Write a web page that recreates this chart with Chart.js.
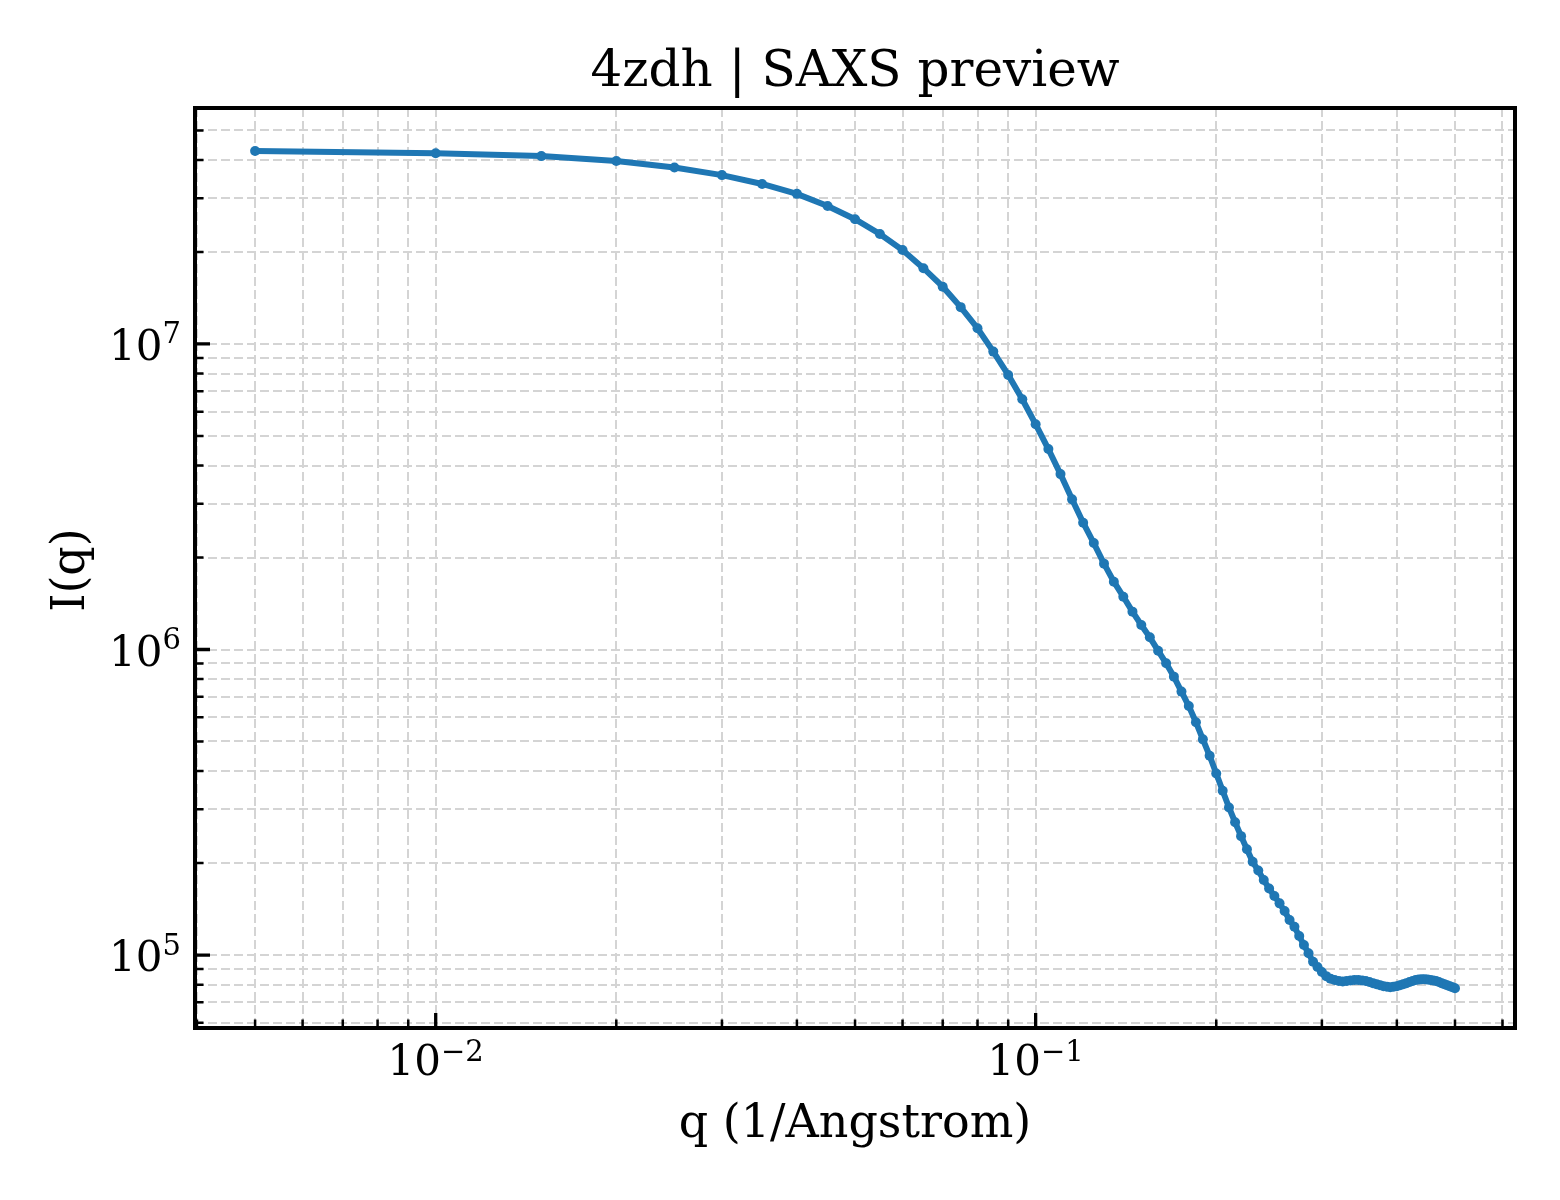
<!DOCTYPE html>
<html>
<head>
<meta charset="utf-8">
<title>4zdh | SAXS preview</title>
<script src="https://cdn.jsdelivr.net/npm/chart.js@4.4.1/dist/chart.umd.min.js"></script>
<style>
  html, body { margin: 0; padding: 0; background: #fff; }
  canvas { display: block; }
</style>
</head>
<body>
<canvas id="saxsChart" width="1560" height="1200" style="width:1560px;height:1200px"></canvas>
<script>
// q values (1/Angstrom)
const qValues = [
  0.005, 0.010, 0.015, 0.020, 0.025, 0.030, 0.035, 0.040, 0.045, 0.050,
  0.055, 0.060, 0.065, 0.070, 0.075, 0.080, 0.085, 0.090, 0.095, 0.100,
  0.105, 0.110, 0.115, 0.120, 0.125, 0.130, 0.135, 0.140, 0.145, 0.150,
  0.155, 0.160, 0.165, 0.170, 0.175, 0.180, 0.185, 0.190, 0.195, 0.200,
  0.205, 0.210, 0.215, 0.220, 0.225, 0.230, 0.235, 0.240, 0.245, 0.250,
  0.255, 0.260, 0.265, 0.270, 0.275, 0.280, 0.285, 0.290, 0.295, 0.300,
  0.305, 0.310, 0.315, 0.320, 0.325, 0.330, 0.335, 0.340, 0.345, 0.350,
  0.355, 0.360, 0.365, 0.370, 0.375, 0.380, 0.385, 0.390, 0.395, 0.400,
  0.405, 0.410, 0.415, 0.420, 0.425, 0.430, 0.435, 0.440, 0.445, 0.450,
  0.455, 0.460, 0.465, 0.470, 0.475, 0.480, 0.485, 0.490, 0.495, 0.500
];

// I(q)
const intensity = [
  4.28e7, 4.21e7, 4.12e7, 3.97e7, 3.78e7, 3.57e7, 3.34e7, 3.10e7, 2.83e7, 2.56e7,
  2.29e7, 2.03e7, 1.77e7, 1.54e7, 1.32e7, 1.126e7, 9.44e6, 7.92e6, 6.59e6, 5.46e6,
  4.53e6, 3.75e6, 3.10e6, 2.60e6, 2.23e6, 1.91e6, 1.667e6, 1.489e6, 1.33e6, 1.203e6,
  1.096e6, 9.91e5, 9.01e5, 8.15e5, 7.28e5, 6.53e5, 5.78e5, 5.08e5, 4.49e5, 3.93e5,
  3.45e5, 3.04e5, 2.72e5, 2.45e5, 2.22e5, 2.02e5, 1.89e5, 1.76e5, 1.65e5, 1.56e5,
  1.476e5, 1.393e5, 1.302e5, 1.238e5, 1.154e5, 1.078e5, 1.013e5, 9.50e4, 9.14e4, 8.80e4,
  8.53e4, 8.37e4, 8.28e4, 8.22e4, 8.19e4, 8.22e4, 8.25e4, 8.28e4, 8.28e4, 8.25e4,
  8.22e4, 8.16e4, 8.09e4, 8.03e4, 7.97e4, 7.91e4, 7.88e4, 7.85e4, 7.87e4, 7.91e4,
  7.97e4, 8.03e4, 8.09e4, 8.16e4, 8.22e4, 8.28e4, 8.31e4, 8.33e4, 8.33e4, 8.31e4,
  8.28e4, 8.25e4, 8.22e4, 8.16e4, 8.09e4, 8.03e4, 7.97e4, 7.91e4, 7.85e4, 7.79e4
];

// axis ticks
const xMajorTicks = [0.01, 0.1];
const xMajorExp = ['\u22122', '\u22121'];
const xMinorTicks = [
  0.004, 0.005, 0.006, 0.007, 0.008, 0.009,
  0.02, 0.03, 0.04, 0.05, 0.06, 0.07, 0.08, 0.09,
  0.2, 0.3, 0.4, 0.5, 0.6
];
const yMajorTicks = [1e5, 1e6, 1e7];
const yMajorExp = ['5', '6', '7'];
const yMinorTicks = [
  6e4, 7e4, 8e4, 9e4,
  2e5, 3e5, 4e5, 5e5, 6e5, 7e5, 8e5, 9e5,
  2e6, 3e6, 4e6, 5e6, 6e6, 7e6, 8e6, 9e6,
  2e7, 3e7, 4e7, 5e7
];

const xRange = [0.00397, 0.6295];
const yRange = [5.77e4, 5.92e7];

const FONT = "'DejaVu Serif', 'Liberation Serif', serif";

Chart.defaults.font.family = FONT;

// frame, inward ticks, mathtext-like labels, titles
const axesDecor = {
    id: 'axesDecor',
    afterDraw(chart) {
        const { ctx, chartArea: a, scales } = chart;
        const xs = scales.x, ys = scales.y;
        ctx.save();

        ctx.strokeStyle = '#000';
        ctx.lineCap = 'butt';
        // minor ticks
        ctx.lineWidth = 2.5;
        ctx.beginPath();
        xMinorTicks.forEach(v => {
            const px = xs.getPixelForValue(v);
            ctx.moveTo(px, a.bottom);
            ctx.lineTo(px, a.bottom - 8.5);
        });
        yMinorTicks.forEach(v => {
            const py = ys.getPixelForValue(v);
            ctx.moveTo(a.left, py);
            ctx.lineTo(a.left + 8.5, py);
        });
        ctx.stroke();
        // major ticks
        ctx.lineWidth = 3.3;
        ctx.beginPath();
        xMajorTicks.forEach(v => {
            const px = xs.getPixelForValue(v);
            ctx.moveTo(px, a.bottom);
            ctx.lineTo(px, a.bottom - 15);
        });
        yMajorTicks.forEach(v => {
            const py = ys.getPixelForValue(v);
            ctx.moveTo(a.left, py);
            ctx.lineTo(a.left + 15, py);
        });
        ctx.stroke();

        // frame
        ctx.lineWidth = 4;
        ctx.strokeRect(a.left, a.top, a.right - a.left, a.bottom - a.top);

        ctx.fillStyle = '#000';
        const baseFont = '42px ' + FONT;
        const expFont = '29px ' + FONT;

        // x tick labels
        ctx.textBaseline = 'alphabetic';
        ctx.textAlign = 'left';
        xMajorTicks.forEach((v, i) => {
            const px = xs.getPixelForValue(v);
            ctx.font = baseFont;
            const bw = ctx.measureText('10').width;
            ctx.font = expFont;
            const ew = ctx.measureText(xMajorExp[i]).width;
            const x0 = px - (bw + ew) / 2;
            const base = a.bottom + 47;
            ctx.font = baseFont;
            ctx.fillText('10', x0, base);
            ctx.font = expFont;
            ctx.fillText(xMajorExp[i], x0 + bw, base - 14);
        });

        // y tick labels
        yMajorTicks.forEach((v, i) => {
            const py = ys.getPixelForValue(v);
            ctx.font = expFont;
            const ew = ctx.measureText(yMajorExp[i]).width;
            ctx.font = baseFont;
            const bw = ctx.measureText('10').width;
            const right = a.left - 14;
            ctx.fillText('10', right - ew - bw, py + 16);
            ctx.font = expFont;
            ctx.fillText(yMajorExp[i], right - ew, py - 0.5);
        });

        // titles
        const cx = (a.left + a.right) / 2;
        ctx.textAlign = 'center';
        ctx.font = '50px ' + FONT;
        ctx.fillText('4zdh | SAXS preview', cx, 86);
        ctx.font = '46px ' + FONT;
        ctx.fillText('q (1/Angstrom)', cx, 1137);

        ctx.translate(84, (a.top + a.bottom) / 2 + 2);
        ctx.rotate(-Math.PI / 2);
        ctx.fillText('I(q)', 0, 0);

        ctx.restore();
    }
};

const gridStyle = {
    display: true,
    color: '#d4d4d4',
    lineWidth: 2,
    drawTicks: false,
    drawOnChartArea: true
};

new Chart(document.getElementById('saxsChart'), {
    type: 'line',
    data: {
        datasets: [{
            label: 'I(q)',
            data: qValues.map((q, i) => ({ x: q, y: intensity[i] })),
            borderColor: '#1f77b4',
            backgroundColor: '#1f77b4',
            borderWidth: 6,
            pointRadius: 5,
            pointBorderWidth: 0,
            pointBackgroundColor: '#1f77b4',
            tension: 0,
            fill: false
        }]
    },
    options: {
        responsive: false,
        devicePixelRatio: 1,
        animation: false,
        layout: {
            padding: { left: 0, top: 108, right: 45, bottom: 0 }
        },
        scales: {
            x: {
                type: 'logarithmic',
                min: xRange[0],
                max: xRange[1],
                afterBuildTicks: axis => {
                    axis.ticks = xMajorTicks.concat(xMinorTicks)
                        .sort((p, q) => p - q).map(v => ({ value: v }));
                },
                afterFit: axis => { axis.height = 172; },
                ticks: { display: false },
                grid: gridStyle,
                border: { display: false, dash: [9, 4] }
            },
            y: {
                type: 'logarithmic',
                min: yRange[0],
                max: yRange[1],
                afterBuildTicks: axis => {
                    axis.ticks = yMajorTicks.concat(yMinorTicks)
                        .sort((p, q) => p - q).map(v => ({ value: v }));
                },
                afterFit: axis => { axis.width = 195; },
                ticks: { display: false },
                grid: gridStyle,
                border: { display: false, dash: [9, 4] }
            }
        },
        plugins: {
            legend: { display: false },
            tooltip: { enabled: false },
            title: { display: false }
        }
    },
    plugins: [axesDecor]
});
</script>
</body>
</html>
